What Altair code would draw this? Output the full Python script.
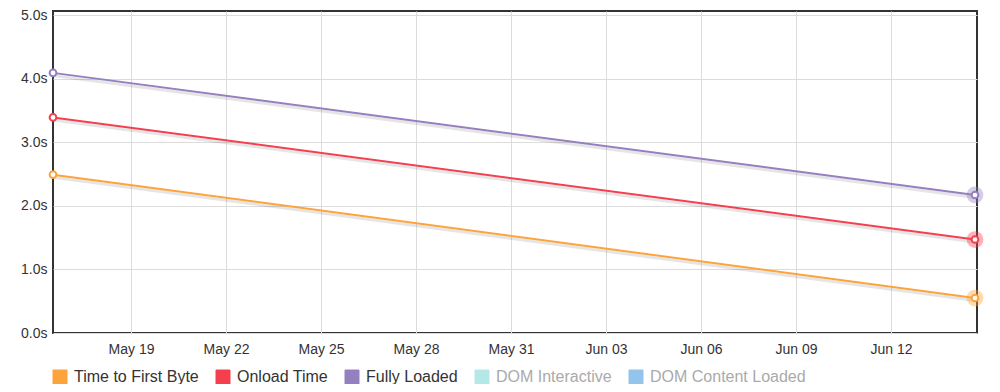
import altair as alt
import pandas as pd

# ---- data ----
dates = ["2019-05-16T12:53:00Z", "2019-06-14T15:40:00Z"]
series = ["Time to First Byte", "Onload Time", "Fully Loaded",
          "DOM Interactive", "DOM Content Loaded"]
ttfb = [2.49, 0.55]
onload = [3.39, 1.47]
fully = [4.09, 2.17]
colors = ["#fda33c", "#f4404e", "#9580bf", "#b3e8e6", "#93c4ec"]
hidden_series = ["DOM Interactive", "DOM Content Loaded"]
x_tick_days = [(5, 19), (5, 22), (5, 25), (5, 28), (5, 31),
               (6, 3), (6, 6), (6, 9), (6, 12)]
y_ticks = [0, 1, 2, 3, 4, 5]

rows = []
for name, vals in zip(series[:3], [ttfb, onload, fully]):
    for i, (d, v) in enumerate(zip(dates, vals)):
        rows.append({"date": d, "series": name, "value": v,
                     "last": i == len(dates) - 1})
df = pd.DataFrame(rows)

FONT = "Liberation Sans"

x_scale = alt.Scale(type="utc", domain=[dates[0], "2019-06-14T17:10:00Z"])
y_scale = alt.Scale(domain=[0, 5.063], nice=False)
col_scale = alt.Scale(domain=series, range=colors)

x_axis = alt.Axis(
    values=[alt.DateTime(year=2019, month=m, date=d, utc=True) for m, d in x_tick_days],
    labelExpr="utcFormat(datum.value, '%b %d')",
    title=None, domain=False, ticks=False, grid=True, gridColor="#dcdcdc",
    labelPadding=9, labelFontSize=14, labelColor="#333", labelFont=FONT,
)
y_axis = alt.Axis(
    values=y_ticks, labelExpr="format(datum.value, '.1f') + 's'",
    title=None, domain=False, ticks=False, grid=True, gridColor="#dcdcdc",
    labelPadding=6, labelFontSize=14, labelColor="#333", labelFont=FONT,
)

X = alt.X("date:T", scale=x_scale, axis=x_axis, title=None)
Y = alt.Y("value:Q", scale=y_scale, axis=y_axis, title=None)

hidden_expr = "indexof(" + str(hidden_series) + ", datum.label) >= 0 ? '#aaaaaa' : '#333333'"
gap = chr(160) * 15
label_expr = "datum.label == 'Onload Time' ? datum.label + '" + gap + "' : datum.label"

legend = alt.Legend(
    orient="none", legendX=-1, legendY=358, direction="horizontal",
    title=None, symbolType="square", symbolSize=196, symbolOpacity=1,
    symbolStrokeColor="#cccccc", symbolStrokeWidth=1,
    labelFontSize=16, labelFont=FONT, labelOffset=6,
    labelColor={"expr": hidden_expr},
    labelExpr=label_expr,
    columnPadding=15, labelLimit=300,
)
C = alt.Color("series:N", scale=col_scale, legend=legend, title=None)

base = alt.Chart(df)

shadow = base.transform_calculate(sv="datum.value - 0.04").mark_line(
    color="#000", opacity=0.1, strokeWidth=3
).encode(
    x=X,
    y=alt.Y("sv:Q", scale=y_scale, axis=y_axis, title=None),
    detail="series:N",
)

halo = base.transform_filter("datum.last").mark_circle(size=280, opacity=0.4).encode(
    x=X, y=Y, color=C,
)

lines = base.mark_line(strokeWidth=2).encode(x=X, y=Y, color=C)

pts = base.mark_point(filled=False, fill="white", fillOpacity=1, size=45,
                      strokeWidth=2, opacity=1).encode(x=X, y=Y, color=C)

chart = alt.layer(shadow, halo, lines, pts).properties(
    width=924, height=322,
    autosize=alt.AutoSizeParams(type="none"),
    padding={"left": 45, "top": 3, "right": 15, "bottom": 51},
).configure(font=FONT).configure_view(stroke="#333333", strokeWidth=2)

chart.save("out.html", embed_options={"renderer": "svg", "actions": False})
